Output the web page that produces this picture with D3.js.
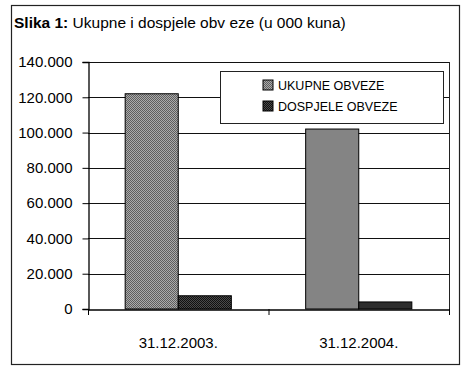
<!DOCTYPE html>
<html>
<head>
<meta charset="utf-8">
<script src="https://cdn.jsdelivr.net/npm/d3@7/dist/d3.min.js"></script>
<style>
  html, body { margin: 0; padding: 0; background: #fff; }
  svg { display: block; font-family: "Liberation Sans", Arial, sans-serif; }
</style>
</head>
<body>
<svg id="chart" width="462" height="367"></svg>
<script>
// Liabilities (thousand kuna) at year end
const categories = ["31.12.2003.", "31.12.2004."];
const seriesNames = ["UKUPNE OBVEZE", "DOSPJELE OBVEZE"];
const ukupne = [122000, 102000];
const dospjele = [7500, 4000];
const yTicks = [0, 20000, 40000, 60000, 80000, 100000, 120000, 140000];

const svg = d3.select("#chart");
const defs = svg.append("defs");

// Halftone-like fills for the two series
function stipple(id, dark, light) {
  const p = defs.append("pattern").attr("id", id)
    .attr("width", 2).attr("height", 2).attr("patternUnits", "userSpaceOnUse");
  p.append("rect").attr("width", 2).attr("height", 2).attr("fill", light);
  p.append("rect").attr("width", 1).attr("height", 1).attr("fill", dark);
  p.append("rect").attr("x", 1).attr("y", 1).attr("width", 1).attr("height", 1).attr("fill", dark);
}
stipple("fillU", "#5e5e5e", "#ababab");
stipple("fillD", "#111", "#4a4a4a");
const fills = ["url(#fillU)", "url(#fillD)"];

// Outer frame
svg.append("rect").attr("x", 11.5).attr("y", 5.5).attr("width", 448).attr("height", 359)
  .attr("fill", "none").attr("stroke", "#222").attr("stroke-width", 1.2);

// Title
const title = svg.append("text").attr("x", 14).attr("y", 28).attr("font-size", 15.5).attr("fill", "#000");
title.append("tspan").attr("font-weight", "bold").text("Slika 1: ");
title.append("tspan").text("Ukupne i dospjele obv eze (u 000 kuna)");

const plot = { left: 88, right: 449, top: 62, bottom: 309 };

const y = d3.scaleLinear().domain([0, 140000]).range([plot.bottom, plot.top]);
const x0 = d3.scaleBand().domain(categories).range([plot.left, plot.right]).paddingInner(0).paddingOuter(0);
const x1 = d3.scaleBand().domain(seriesNames).range([0, x0.bandwidth()]).paddingInner(0).paddingOuter(0.7);

const fmt = v => v === 0 ? "0" : d3.format(",")(v).replace(/,/g, ".");

// Gridlines
svg.append("g").selectAll("line").data(yTicks.filter(d => d > 0)).join("line")
  .attr("x1", plot.left).attr("x2", plot.right)
  .attr("y1", d => Math.round(y(d)) + 0.5).attr("y2", d => Math.round(y(d)) + 0.5)
  .attr("stroke", "#111").attr("stroke-width", 1);

// Right border of plot area
svg.append("line").attr("x1", plot.right + 0.5).attr("x2", plot.right + 0.5)
  .attr("y1", plot.top).attr("y2", plot.bottom).attr("stroke", "#222");

// Bars
const data = categories.map((c, i) => ({ cat: c, vals: [ukupne[i], dospjele[i]] }));
svg.append("g").selectAll("g").data(data).join("g")
  .attr("transform", d => `translate(${x0(d.cat)},0)`)
  .selectAll("rect").data(d => d.vals.map((v, k) => ({ key: seriesNames[k], v, k }))).join("rect")
  .attr("x", d => x1(d.key)).attr("width", x1.bandwidth())
  .attr("y", d => y(d.v)).attr("height", d => y(0) - y(d.v))
  .attr("fill", d => fills[d.k]).attr("stroke", "#000").attr("stroke-width", 1);

// Y axis
const yAxis = svg.append("g").attr("transform", `translate(${plot.left + 0.5},0)`)
  .call(d3.axisLeft(y).tickValues(yTicks).tickFormat(fmt).tickSize(6).tickPadding(10));
yAxis.select(".domain").attr("stroke", "#000").attr("stroke-width", 1.3);
yAxis.selectAll(".tick line").attr("stroke", "#000");
yAxis.selectAll("text").attr("font-size", 15).attr("fill", "#000")
  .attr("font-family", "Liberation Sans, Arial, sans-serif");

// X axis
const xAxis = svg.append("g").attr("transform", `translate(0,${plot.bottom + 0.5})`)
  .call(d3.axisBottom(x0).tickSize(0).tickPadding(28));
xAxis.select(".domain").attr("stroke", "#000").attr("stroke-width", 1.3);
xAxis.selectAll("text").attr("font-size", 15).attr("fill", "#000")
  .attr("font-family", "Liberation Sans, Arial, sans-serif");
// Category separators
svg.append("g").selectAll("line")
  .data([plot.left, x0(categories[1]), plot.right]).join("line")
  .attr("x1", d => d + 0.5).attr("x2", d => d + 0.5)
  .attr("y1", plot.bottom).attr("y2", plot.bottom + 6)
  .attr("stroke", "#000");

// Legend
const lg = svg.append("g").attr("transform", "translate(220,71)");
lg.append("rect").attr("x", 0.5).attr("y", 0.5).attr("width", 223).attr("height", 52)
  .attr("fill", "#fff").attr("stroke", "#222");
seriesNames.forEach((name, k) => {
  const row = lg.append("g").attr("transform", `translate(43,${14 + k * 21})`);
  row.append("rect").attr("x", 0).attr("y", -5).attr("width", 10).attr("height", 10)
    .attr("fill", fills[k]).attr("stroke", "#000");
  row.append("text").attr("x", 15).attr("y", 5).attr("font-size", 12.5).attr("fill", "#000").text(name);
});
</script>
</body>
</html>
